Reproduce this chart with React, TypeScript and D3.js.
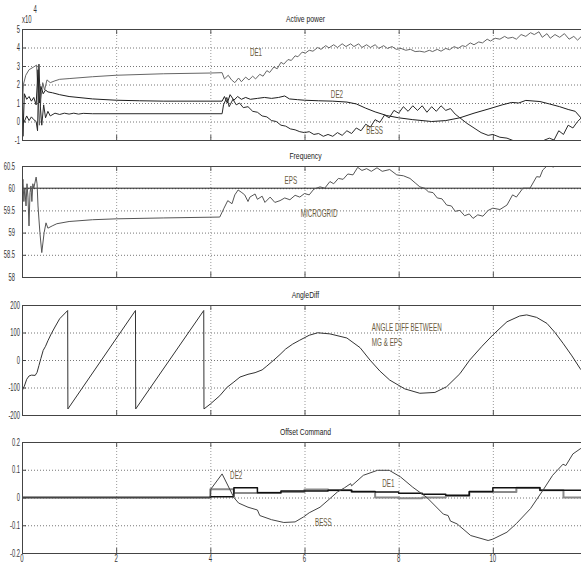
import * as d3 from 'd3';

const W = 581;
const H = 564;

// time axis, seconds
const xTicks = [0, 2, 4, 6, 8, 10];

// Active power (x10^4)
const powerTicks = [-1, 0, 1, 2, 3, 4, 5];
const powerDE1: [number, number][] = [
  [0, 0.5], [0.03, 2.0], [0.08, 2.5], [0.15, 2.8], [0.25, 2.95], [0.31, 3.05], [0.34, 1.5], [0.37, -0.2],
  [0.4, 1.2], [0.44, 2.1], [0.48, 1.7], [0.53, 2.25], [0.6, 2.1], [0.7, 2.2], [0.8, 2.28], [1.0, 2.32],
  [1.5, 2.42], [2.0, 2.5], [3.0, 2.58], [4.0, 2.62], [4.25, 2.64], [4.3, 2.3], [4.38, 2.5], [4.45, 2.25],
  [4.52, 2.1], [4.6, 2.35], [4.66, 2.15], [4.75, 2.4], [4.82, 2.25], [4.9, 2.45], [4.96, 2.3], [5.05, 2.55],
  [5.12, 2.45], [5.2, 2.75], [5.26, 2.65], [5.35, 2.95], [5.42, 2.85], [5.5, 3.2], [5.56, 3.1], [5.65, 3.35],
  [5.72, 3.3], [5.8, 3.55], [5.86, 3.5], [5.95, 3.75], [6.02, 3.7], [6.1, 3.85], [6.18, 3.8], [6.28, 4.0],
  [6.35, 3.9], [6.45, 4.1], [6.52, 3.98], [6.62, 4.15], [6.7, 4.0], [6.8, 4.2], [6.88, 4.05], [6.98, 4.2],
  [7.05, 4.05], [7.15, 4.2], [7.22, 4.0], [7.32, 4.15], [7.4, 4.0], [7.5, 4.15], [7.58, 3.95], [7.68, 4.1],
  [7.76, 3.95], [7.86, 4.05], [7.95, 3.9], [8.05, 3.95], [8.15, 3.85], [8.25, 3.9], [8.35, 3.78], [8.45, 3.8],
  [8.55, 3.75], [8.65, 3.85], [8.72, 3.78], [8.82, 3.9], [8.9, 3.8], [9.0, 3.95], [9.08, 3.88], [9.18, 4.05],
  [9.26, 3.95], [9.35, 4.1], [9.42, 4.05], [9.52, 4.25], [9.6, 4.15], [9.7, 4.3], [9.78, 4.25], [9.88, 4.45],
  [9.95, 4.35], [10.05, 4.5], [10.15, 4.45], [10.25, 4.6], [10.32, 4.5], [10.42, 4.55], [10.5, 4.45],
  [10.6, 4.7], [10.7, 4.6], [10.8, 4.8], [10.88, 4.7], [10.98, 4.85], [11.05, 4.55], [11.15, 4.75],
  [11.22, 4.5], [11.32, 4.7], [11.42, 4.55], [11.52, 4.75], [11.62, 4.45], [11.72, 4.6], [11.8, 4.4],
  [11.9, 4.65], [12, 4.55]
];
const powerDE2: [number, number][] = [
  [0, 4.2], [0.02, -0.8], [0.05, 1.5], [0.1, 1.2], [0.15, 1.35], [0.2, 1.1], [0.25, 1.3], [0.3, 0.9],
  [0.34, 2.8], [0.37, 1.0], [0.4, 1.9], [0.45, 1.5], [0.5, 1.7], [0.55, 1.6], [0.65, 1.55], [0.8, 1.45],
  [1.0, 1.35], [1.5, 1.22], [2.0, 1.15], [2.5, 1.12], [3.0, 1.1], [4.0, 1.1], [4.25, 1.1], [4.3, 1.35],
  [4.36, 1.0], [4.42, 1.45], [4.5, 1.15], [4.58, 1.35], [4.66, 1.2], [4.75, 1.3], [4.85, 1.2], [5.0, 1.25],
  [5.15, 1.3], [5.3, 1.25], [5.45, 1.3], [5.58, 1.38], [5.68, 1.22], [5.85, 1.18], [6.0, 1.15], [6.3, 1.12],
  [6.6, 1.1], [6.9, 1.05], [7.1, 0.95], [7.3, 0.72], [7.5, 0.52], [7.75, 0.32], [8.0, 0.2], [8.3, 0.1],
  [8.7, 0.0], [9.0, 0.05], [9.3, 0.2], [9.6, 0.45], [9.94, 0.7], [10.2, 0.9], [10.4, 1.03], [10.55, 1.0],
  [10.7, 1.14], [11.0, 1.08], [11.2, 0.95], [11.42, 0.8], [11.6, 0.65], [11.75, 0.55], [11.87, 0.2], [12, 0.0]
];
const powerBESS: [number, number][] = [
  [0, 0.2], [0.05, 0.0], [0.1, 0.3], [0.15, 0.05], [0.2, 0.25], [0.25, 0.1], [0.3, 0.0], [0.33, -0.5],
  [0.36, 3.1], [0.39, 0.8], [0.42, -0.2], [0.46, 0.9], [0.5, 0.2], [0.55, 0.55], [0.6, 0.3], [0.7, 0.45],
  [0.8, 0.38], [0.9, 0.45], [1.0, 0.4], [1.1, 0.45], [1.2, 0.4], [1.3, 0.44], [1.5, 0.42], [2, 0.42],
  [4, 0.42], [4.25, 0.42], [4.28, 0.9], [4.35, 1.3], [4.4, 0.8], [4.48, 1.2], [4.55, 0.9], [4.62, 1.0],
  [4.7, 0.75], [4.8, 0.8], [4.9, 0.55], [5.0, 0.5], [5.1, 0.3], [5.2, 0.25], [5.3, 0.05], [5.4, 0.0],
  [5.5, -0.2], [5.6, -0.25], [5.7, -0.4], [5.8, -0.45], [5.9, -0.55], [6.0, -0.6], [6.1, -0.55], [6.2, -0.7],
  [6.3, -0.65], [6.4, -0.8], [6.5, -0.7], [6.6, -0.8], [6.7, -0.6], [6.8, -0.75], [6.9, -0.5], [7.0, -0.65],
  [7.1, -0.35], [7.2, -0.5], [7.3, -0.15], [7.4, -0.3], [7.5, 0.1], [7.6, -0.05], [7.7, 0.35], [7.8, 0.2],
  [7.9, 0.6], [8.0, 0.45], [8.1, 0.8], [8.2, 0.55], [8.3, 0.85], [8.4, 0.6], [8.5, 0.85], [8.6, 0.5],
  [8.7, 0.8], [8.8, 0.55], [8.9, 0.85], [9.0, 0.6], [9.1, 0.7], [9.2, 0.4], [9.3, 0.2], [9.45, -0.1],
  [9.6, -0.35], [9.75, -0.6], [9.9, -0.75], [10.0, -0.7], [10.15, -0.85], [10.3, -0.9], [10.45, -1.05],
  [10.6, -1.2], [10.8, -1.2], [11.0, -1.15], [11.1, -1.0], [11.2, -0.9], [11.3, -1.0], [11.4, -0.5],
  [11.5, -0.7], [11.6, -0.2], [11.7, -0.35], [11.8, 0.0], [11.9, 0.25], [12, 0.3]
];

// Frequency (Hz)
const freqTicks = [58, 58.5, 59, 59.5, 60, 60.5];
const freqEPS: [number, number][] = [[0, 60], [12, 60]];
const freqMicrogrid: [number, number][] = [
  [0, 60.0], [0.02, 60.2], [0.04, 59.7], [0.06, 60.0], [0.085, 59.6], [0.106, 60.1], [0.127, 59.8],
  [0.149, 59.15], [0.17, 59.9], [0.19, 60.05], [0.21, 59.7], [0.23, 60.1], [0.25, 60.0], [0.3, 60.25],
  [0.32, 60.1], [0.34, 59.6], [0.38, 59.0], [0.42, 58.55], [0.47, 59.0], [0.51, 59.22], [0.55, 59.1],
  [0.64, 59.15], [0.74, 59.2], [1.0, 59.25], [1.5, 59.29], [2.0, 59.31], [3.0, 59.33], [4.2, 59.35],
  [4.29, 59.55], [4.37, 59.72], [4.46, 59.65], [4.52, 59.85], [4.59, 59.96], [4.67, 59.9], [4.73, 59.85],
  [4.8, 59.7], [4.84, 59.8], [4.95, 59.87], [5.0, 59.75], [5.1, 59.82], [5.16, 59.68], [5.27, 59.8],
  [5.37, 59.68], [5.48, 59.72], [5.58, 59.78], [5.69, 59.74], [5.8, 59.84], [5.9, 59.8], [6.0, 59.88],
  [6.1, 59.85], [6.2, 59.98], [6.33, 60.03], [6.43, 60.0], [6.54, 60.15], [6.62, 60.1], [6.72, 60.22],
  [6.82, 60.2], [6.92, 60.32], [7.03, 60.3], [7.13, 60.47], [7.22, 60.4], [7.32, 60.44], [7.42, 60.38],
  [7.54, 60.46], [7.65, 60.38], [7.81, 60.42], [7.96, 60.3], [8.1, 60.28], [8.24, 60.22], [8.35, 60.12],
  [8.45, 60.03], [8.55, 60.0], [8.63, 59.92], [8.73, 59.9], [8.82, 59.78], [8.92, 59.76], [9.02, 59.62],
  [9.12, 59.6], [9.2, 59.48], [9.3, 59.5], [9.4, 59.38], [9.5, 59.42], [9.58, 59.32], [9.68, 59.4],
  [9.79, 59.37], [9.9, 59.5], [10.0, 59.55], [10.15, 59.52], [10.3, 59.62], [10.42, 59.85], [10.5, 59.8],
  [10.64, 60.0], [10.79, 60.0], [10.93, 60.26], [11.0, 60.25], [11.06, 60.41], [11.15, 60.5],
  [11.2, 60.56], [11.28, 60.47], [11.35, 60.6], [11.6, 60.8], [12, 61.0]
];

// Angle difference (deg)
const angleTicks = [-200, -100, 0, 100, 200];
const angleDiff: [number, number][] = [
  [0, -115], [0.02, -105], [0.05, -95], [0.1, -70], [0.15, -58], [0.2, -55], [0.28, -56], [0.32, -45],
  [0.36, -20], [0.4, 5], [0.45, 35], [0.5, 50], [0.55, 70], [0.62, 95], [0.7, 120], [0.8, 150],
  [0.97, 180], [0.975, -178], [2.41, 180], [2.415, -178], [3.86, 180], [3.865, -178], [4.0, -160],
  [4.2, -130], [4.35, -100], [4.5, -80], [4.63, -62], [4.8, -52], [4.95, -46], [5.1, -36], [5.2, -22],
  [5.35, 0], [5.48, 20], [5.6, 40], [5.75, 58], [5.9, 72], [6.1, 90], [6.28, 99], [6.54, 95], [6.9, 80],
  [7.18, 45], [7.39, 0], [7.6, -40], [7.81, -73], [8.13, -105], [8.45, -121], [8.77, -118], [9.02, -97],
  [9.3, -50], [9.51, 0], [9.77, 50], [10.0, 91], [10.3, 139], [10.57, 160], [10.72, 164], [10.93, 155],
  [11.15, 133], [11.32, 100], [11.49, 61], [11.68, 15], [11.85, -30], [12, -60]
];

// Offset command
const offsetTicks = [-0.2, -0.1, 0, 0.1, 0.2];
const offsetStepTimes = [0, 4.0, 4.5, 5.0, 5.5, 6.0, 6.5, 7.0, 7.5, 8.0, 8.5, 9.0, 9.5, 10.0, 10.5, 11.0, 11.5, 12];
const offsetDE1 = [0, 0.003, 0.035, 0.017, 0.023, 0.023, 0.026, 0.022, 0.02, 0.015, 0.012, 0.008, 0.022, 0.035, 0.035, 0.026, 0.026, 0.026];
const offsetDE2 = [0, 0.03, 0.016, 0.017, 0.02, 0.029, 0.026, 0.02, 0, -0.003, 0, 0.005, 0.02, 0.02, 0.035, 0.026, 0, 0];
const offsetBESS: [number, number][] = [
  [0, 0], [4.0, 0], [4.01, 0.03], [4.25, 0.085], [4.5, 0.0], [4.6, -0.02], [4.8, -0.035], [5.0, -0.045],
  [5.05, -0.065], [5.3, -0.08], [5.56, -0.09], [5.8, -0.088], [5.98, -0.07], [6.1, -0.055], [6.33, -0.035],
  [6.5, -0.01], [6.7, 0.02], [6.85, 0.035], [6.98, 0.05], [7.0, 0.042], [7.25, 0.08], [7.55, 0.098],
  [7.8, 0.098], [8.04, 0.074], [8.3, 0.037], [8.6, 0.0], [8.95, -0.06], [9.05, -0.065], [9.1, -0.085],
  [9.24, -0.095], [9.53, -0.137], [9.9, -0.155], [10.0, -0.15], [10.3, -0.125], [10.5, -0.094],
  [10.8, -0.04], [11.06, 0.025], [11.27, 0.08], [11.49, 0.12], [11.55, 0.115], [11.7, 0.157],
  [11.87, 0.177], [12, 0.185]
];

const FONT = '"Liberation Sans", Arial, sans-serif';
const NOTE = '#6b5c3e';

const x = d3.scaleLinear().domain([0, 12]).range([22, 587]);

type Series = { data: [number, number][]; color: string; width: number; step?: boolean };
type Note = { text: string; t: number; v: number; anchor?: 'start' | 'middle' };

function Txt({ px, py, text, size, sx, anchor = 'middle', fill = '#333' }: {
  px: number; py: number; text: string; size: number; sx: number; anchor?: string; fill?: string;
}) {
  return (
    <text
      transform={`translate(${px},${py}) scale(${sx},1)`}
      fontFamily={FONT}
      fontSize={size}
      textAnchor={anchor}
      fill={fill}
    >
      {text}
    </text>
  );
}

function Panel({ id, title, top, bottom, domain, ticks, fmt, labelX, series, notes, showX }: {
  id: string; title: string; top: number; bottom: number; domain: [number, number]; ticks: number[];
  fmt: (v: number) => string; labelX: number; series: Series[]; notes: Note[]; showX?: boolean;
}) {
  const y = d3.scaleLinear().domain(domain).range([bottom, top]);
  const [x0, x1] = x.range();
  return (
    <g>
      <defs>
        <clipPath id={`clip-${id}`}>
          <rect x={x0} y={top} width={x1 - x0} height={bottom - top} />
        </clipPath>
      </defs>
      <Txt px={x(6) + 1} py={top - 7} text={title} size={8.5} sx={0.8} fill="#222" />
      {/* grid */}
      {ticks.filter((t) => t !== domain[0] && t !== domain[1]).map((t) => (
        <line key={`h${t}`} x1={x0} x2={x1} y1={y(t) + 0.5} y2={y(t) + 0.5}
          stroke="#777" strokeDasharray="1,2" />
      ))}
      {xTicks.filter((t) => t > 0).map((t) => (
        <g key={`v${t}`}>
          <line x1={x(t) + 0.5} x2={x(t) + 0.5} y1={top} y2={bottom} stroke="#999" strokeDasharray="1,2" />
          <line x1={x(t) + 0.5} x2={x(t) + 0.5} y1={top} y2={top + 5} stroke="#555" />
          <line x1={x(t) + 0.5} x2={x(t) + 0.5} y1={bottom - 5} y2={bottom} stroke="#555" />
        </g>
      ))}
      {ticks.map((t) => (
        <g key={`yt${t}`}>
          <line x1={x0} x2={x0 + 4} y1={y(t) + 0.5} y2={y(t) + 0.5} stroke="#444" />
          <Txt px={labelX} py={y(t) + 3.5} text={fmt(t)} size={10.5} sx={0.55} anchor="end" />
        </g>
      ))}
      {/* data */}
      <g clipPath={`url(#clip-${id})`}>
        {series.map((s, i) => {
          const line = d3.line<[number, number]>()
            .x((d) => x(d[0]))
            .y((d) => y(d[1]))
            .curve(s.step ? d3.curveStepAfter : d3.curveLinear);
          return (
            <path key={i} d={line(s.data) ?? ''} fill="none" stroke={s.color}
              strokeWidth={s.width} strokeLinejoin="round" />
          );
        })}
      </g>
      {/* frame */}
      <line x1={x0} x2={x1} y1={top + 0.5} y2={top + 0.5} stroke="#444" />
      <line x1={x0} x2={x1} y1={bottom + 0.5} y2={bottom + 0.5} stroke="#444" />
      <line x1={x0 + 0.5} x2={x0 + 0.5} y1={top} y2={bottom + 1} stroke="#444" />
      {notes.map((n) => (
        <Txt key={n.text} px={x(n.t)} py={y(n.v) + 3.5} text={n.text} size={10.5} sx={0.6}
          anchor={n.anchor ?? 'middle'} fill={NOTE} />
      ))}
      {showX && xTicks.map((t) => (
        <Txt key={`xt${t}`} px={x(t)} py={bottom + 9} text={String(t)} size={10} sx={0.6} />
      ))}
    </g>
  );
}

const zip = (ts: number[], vs: number[]) => ts.map((t, i) => [t, vs[i]] as [number, number]);

export default function App() {
  return (
    <svg width={W} height={H} style={{ position: 'absolute', left: 0, top: 0, background: '#fff' }}>
      <rect width={W} height={H} fill="#fff" />
      <Txt px={22} py={23} text="x10" size={10} sx={0.6} anchor="start" />
      <Txt px={33.5} py={13} text="4" size={10} sx={0.6} anchor="start" />
      <Panel
        id="p1" title="Active power" top={29} bottom={140} domain={[-1, 5]} ticks={powerTicks}
        fmt={(v) => String(v)} labelX={20}
        series={[
          { data: powerDE1, color: '#666', width: 1 },
          { data: powerDE2, color: '#1e1e1e', width: 1 },
          { data: powerBESS, color: '#2a2a2a', width: 1 }
        ]}
        notes={[
          { text: 'DE1', t: 4.97, v: 3.73 },
          { text: 'DE2', t: 6.69, v: 1.46 },
          { text: 'BESS', t: 7.49, v: -0.49 }
        ]}
      />
      <Panel
        id="p2" title="Frequency" top={166} bottom={277} domain={[58, 60.5]} ticks={freqTicks}
        fmt={(v) => String(v)} labelX={15}
        series={[
          { data: freqEPS, color: '#222', width: 1 },
          { data: freqMicrogrid, color: '#555', width: 1 }
        ]}
        notes={[
          { text: 'EPS', t: 5.71, v: 60.18 },
          { text: 'MICROGRID', t: 6.31, v: 59.43 }
        ]}
      />
      <Panel
        id="p3" title="AngleDiff" top={305} bottom={415} domain={[-200, 200]} ticks={angleTicks}
        fmt={(v) => String(v)} labelX={20}
        series={[{ data: angleDiff, color: '#333', width: 1 }]}
        notes={[
          { text: 'ANGLE DIFF BETWEEN', t: 7.43, v: 119, anchor: 'start' },
          { text: 'MG & EPS', t: 7.43, v: 63, anchor: 'start' }
        ]}
      />
      <Panel
        id="p4" title="Offset Command" top={442} bottom={553} domain={[-0.2, 0.2]} ticks={offsetTicks}
        fmt={(v) => (v === 0 ? '0' : String(v))} labelX={20} showX
        series={[
          { data: zip(offsetStepTimes, offsetDE2), color: '#8a8a8a', width: 2, step: true },
          { data: zip(offsetStepTimes, offsetDE1), color: '#111', width: 1.5, step: true },
          { data: offsetBESS, color: '#444', width: 1 }
        ]}
        notes={[
          { text: 'DE2', t: 4.55, v: 0.079 },
          { text: 'DE1', t: 7.78, v: 0.049 },
          { text: 'BESS', t: 6.4, v: -0.089 }
        ]}
      />
    </svg>
  );
}
